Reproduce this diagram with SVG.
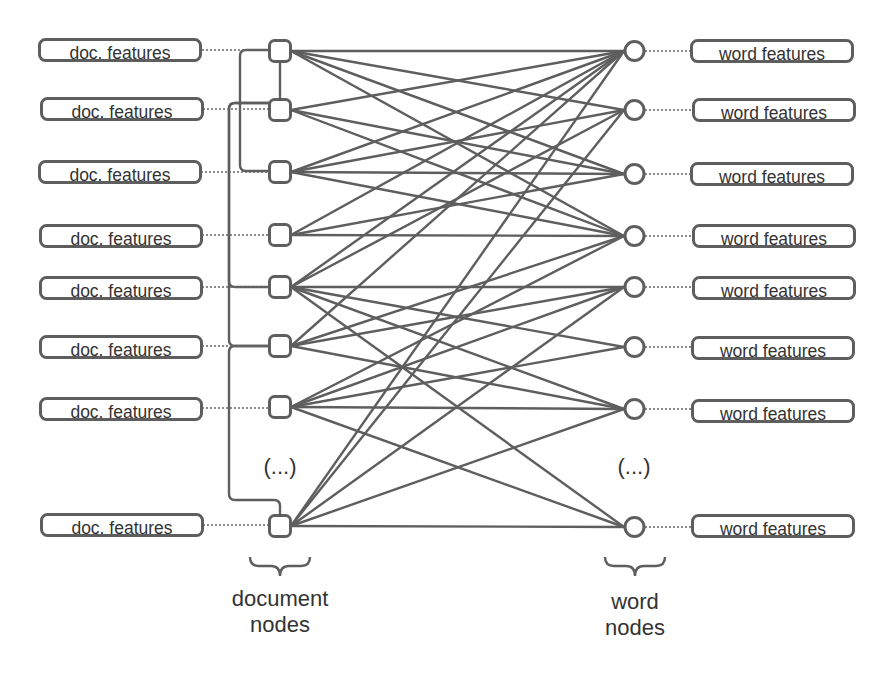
<svg xmlns="http://www.w3.org/2000/svg" width="894" height="697" viewBox="0 0 894 697">
  <style>
    .box { fill: #ffffff; stroke: #5e5e5e; stroke-width: 3; }
    .node { fill: #ffffff; stroke: #5e5e5e; stroke-width: 3; }
    .lbl { font-family: "Liberation Sans", Arial, sans-serif; font-size: 17.5px; fill: #333333; text-anchor: middle; }
    .cap { font-family: "Liberation Sans", Arial, sans-serif; font-size: 22px; fill: #333333; text-anchor: middle; }
    .dot { fill: none; stroke: #666666; stroke-width: 1.6; stroke-dasharray: 2 2; }
    .edge { fill: none; stroke: #5e5e5e; stroke-width: 2.4; }
    .link { fill: none; stroke: #5e5e5e; stroke-width: 2.4; }
  </style>

  <!-- bipartite edges: document nodes (x=291) to word nodes (x=624) -->
  <g id="connectors">
    <!-- doc 1 -->
    <path class="edge" d="M291,51 L624,51"/>
    <path class="edge" d="M291,51 L624,110"/>
    <path class="edge" d="M291,51 L624,174"/>
    <path class="edge" d="M291,51 L624,236"/>
    <!-- doc 2 -->
    <path class="edge" d="M291,110 L624,51"/>
    <path class="edge" d="M291,110 L624,174"/>
    <path class="edge" d="M291,110 L624,236"/>
    <!-- doc 3 -->
    <path class="edge" d="M291,172 L624,51"/>
    <path class="edge" d="M291,172 L624,110"/>
    <path class="edge" d="M291,172 L624,174"/>
    <path class="edge" d="M291,172 L624,236"/>
    <!-- doc 4 -->
    <path class="edge" d="M291,235 L624,51"/>
    <path class="edge" d="M291,235 L624,174"/>
    <path class="edge" d="M291,235 L624,236"/>
    <!-- doc 5 -->
    <path class="edge" d="M291,287 L624,51"/>
    <path class="edge" d="M291,287 L624,110"/>
    <path class="edge" d="M291,287 L624,287"/>
    <path class="edge" d="M291,287 L624,347"/>
    <path class="edge" d="M291,287 L624,409"/>
    <path class="edge" d="M291,287 L624,527"/>
    <!-- doc 6 -->
    <path class="edge" d="M291,346 L624,51"/>
    <path class="edge" d="M291,346 L624,236"/>
    <path class="edge" d="M291,346 L624,287"/>
    <path class="edge" d="M291,346 L624,409"/>
    <!-- doc 7 -->
    <path class="edge" d="M291,407 L624,236"/>
    <path class="edge" d="M291,407 L624,287"/>
    <path class="edge" d="M291,407 L624,347"/>
    <path class="edge" d="M291,407 L624,409"/>
    <path class="edge" d="M291,407 L624,527"/>
    <!-- doc 8 -->
    <path class="edge" d="M291,526 L624,51"/>
    <path class="edge" d="M291,526 L624,110"/>
    <path class="edge" d="M291,526 L624,287"/>
    <path class="edge" d="M291,526 L624,409"/>
    <path class="edge" d="M291,526 L624,527"/>

    <!-- links between document nodes -->
    <path class="link" d="M280,61 V100"/>
    <path class="link" d="M269,50 H246 Q240,50 240,56 V165 Q240,171 246,171 H269"/>
    <path class="link" d="M269,103 H235 Q229,103 229,109 V281 Q229,287 235,287 H269"/>
    <path class="link" d="M269,103 H235 Q229,103 229,109 V340 Q229,346 235,346 H269"/>
    <path class="link" d="M269,346 H235 Q229,346 229,352 V494 Q229,500 235,500 H274 Q280,500 280,506 V516"/>

    <!-- dotted feature links -->
    <path class="dot" d="M202,50 H269"/>
    <path class="dot" d="M203,109 H269"/>
    <path class="dot" d="M201,172 H269"/>
    <path class="dot" d="M202,235 H269"/>
    <path class="dot" d="M202,287 H269"/>
    <path class="dot" d="M202,346 H269"/>
    <path class="dot" d="M202,408 H269"/>
    <path class="dot" d="M203,525 H269"/>
    <path class="dot" d="M645,51 H691"/>
    <path class="dot" d="M645,110 H692"/>
    <path class="dot" d="M645,174 H691"/>
    <path class="dot" d="M645,236 H692"/>
    <path class="dot" d="M645,287 H693"/>
    <path class="dot" d="M645,347 H692"/>
    <path class="dot" d="M645,409 H692"/>
    <path class="dot" d="M645,527 H692"/>
  </g>

  <!-- document feature boxes -->
  <g id="docfeat1"><rect class="box" x="39.5" y="39.5" width="161" height="21" rx="6"/><text class="lbl" x="120" y="58.5">doc. features</text></g>
  <g id="docfeat2"><rect class="box" x="41.5" y="98.5" width="161" height="21" rx="6"/><text class="lbl" x="122" y="117.5">doc. features</text></g>
  <g id="docfeat3"><rect class="box" x="39.5" y="161.5" width="161" height="21" rx="6"/><text class="lbl" x="120" y="180.5">doc. features</text></g>
  <g id="docfeat4"><rect class="box" x="40.5" y="225.5" width="161" height="21" rx="6"/><text class="lbl" x="121" y="244.5">doc. features</text></g>
  <g id="docfeat5"><rect class="box" x="40.5" y="277.5" width="161" height="21" rx="6"/><text class="lbl" x="121" y="296.5">doc. features</text></g>
  <g id="docfeat6"><rect class="box" x="40.5" y="336.5" width="161" height="21" rx="6"/><text class="lbl" x="121" y="355.5">doc. features</text></g>
  <g id="docfeat7"><rect class="box" x="40.5" y="398.5" width="161" height="21" rx="6"/><text class="lbl" x="121" y="417.5">doc. features</text></g>
  <g id="docfeat8"><rect class="box" x="41.5" y="514.5" width="161" height="21" rx="6"/><text class="lbl" x="122" y="533.5">doc. features</text></g>

  <!-- document nodes -->
  <g id="doc1"><rect class="node" x="269.5" y="40.5" width="21" height="21" rx="5"/></g>
  <g id="doc2"><rect class="node" x="269.5" y="99.5" width="21" height="21" rx="5"/></g>
  <g id="doc3"><rect class="node" x="269.5" y="161.5" width="21" height="21" rx="5"/></g>
  <g id="doc4"><rect class="node" x="269.5" y="224.5" width="21" height="21" rx="5"/></g>
  <g id="doc5"><rect class="node" x="269.5" y="276.5" width="21" height="21" rx="5"/></g>
  <g id="doc6"><rect class="node" x="269.5" y="335.5" width="21" height="21" rx="5"/></g>
  <g id="doc7"><rect class="node" x="269.5" y="396.5" width="21" height="21" rx="5"/></g>
  <g id="doc8"><rect class="node" x="269.5" y="515.5" width="21" height="21" rx="5"/></g>

  <!-- word nodes -->
  <g id="word1"><circle class="node" cx="634.5" cy="51" r="9.5"/></g>
  <g id="word2"><circle class="node" cx="634.5" cy="110" r="9.5"/></g>
  <g id="word3"><circle class="node" cx="634.5" cy="174" r="9.5"/></g>
  <g id="word4"><circle class="node" cx="634.5" cy="236" r="9.5"/></g>
  <g id="word5"><circle class="node" cx="634.5" cy="287" r="9.5"/></g>
  <g id="word6"><circle class="node" cx="634.5" cy="347" r="9.5"/></g>
  <g id="word7"><circle class="node" cx="634.5" cy="409" r="9.5"/></g>
  <g id="word8"><circle class="node" cx="634.5" cy="527" r="9.5"/></g>

  <!-- word feature boxes -->
  <g id="wordfeat1"><rect class="box" x="691.5" y="40.5" width="161" height="21" rx="6"/><text class="lbl" x="772" y="59.5">word features</text></g>
  <g id="wordfeat2"><rect class="box" x="693.5" y="99.5" width="161" height="21" rx="6"/><text class="lbl" x="774" y="118.5">word features</text></g>
  <g id="wordfeat3"><rect class="box" x="691.5" y="163.5" width="161" height="21" rx="6"/><text class="lbl" x="772" y="182.5">word features</text></g>
  <g id="wordfeat4"><rect class="box" x="693.5" y="225.5" width="161" height="21" rx="6"/><text class="lbl" x="774" y="244.5">word features</text></g>
  <g id="wordfeat5"><rect class="box" x="693.5" y="277.5" width="161" height="21" rx="6"/><text class="lbl" x="774" y="296.5">word features</text></g>
  <g id="wordfeat6"><rect class="box" x="692.5" y="337.5" width="161" height="21" rx="6"/><text class="lbl" x="773" y="356.5">word features</text></g>
  <g id="wordfeat7"><rect class="box" x="692.5" y="400.5" width="161" height="21" rx="6"/><text class="lbl" x="773" y="419.5">word features</text></g>
  <g id="wordfeat8"><rect class="box" x="692.5" y="515.5" width="161" height="21" rx="6"/><text class="lbl" x="773" y="534.5">word features</text></g>

  <!-- ellipses and group captions -->
  <text class="cap" x="280" y="474">(...)</text>
  <text class="cap" x="634" y="474">(...)</text>
  <path class="link" d="M250,557 Q250,566 259,566 H271 Q280,566 280,576 Q280,566 289,566 H301 Q310,566 310,557"/>
  <path class="link" d="M605,557 Q605,566 614,566 H626 Q635,566 635,576 Q635,566 644,566 H656 Q665,566 665,557"/>
  <text class="cap" x="280" y="606">document</text>
  <text class="cap" x="280" y="632">nodes</text>
  <text class="cap" x="635" y="609">word</text>
  <text class="cap" x="635" y="635">nodes</text>
</svg>
